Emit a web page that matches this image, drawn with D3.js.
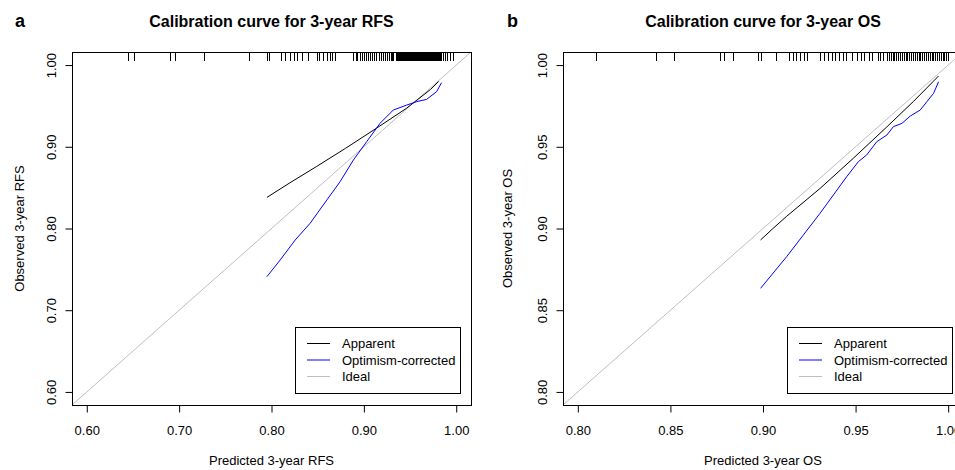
<!DOCTYPE html>
<html><head><meta charset="utf-8">
<script src="https://cdn.jsdelivr.net/npm/d3@7"></script>
<style>
body{margin:0;background:#fff;overflow:hidden}
svg{display:block;font-family:"Liberation Sans",Arial,Helvetica,sans-serif}
</style>
</head><body>
<svg id="chart" width="955" height="470"></svg>
<script>
// ---------- data ----------
const panelLetters = ["a", "b"];
const panelTitles = ["Calibration curve for 3-year RFS", "Calibration curve for 3-year OS"];
const xTitles = ["Predicted 3-year RFS", "Predicted 3-year OS"];
const yTitles = ["Observed 3-year RFS", "Observed 3-year OS"];

const rfsTicks = [0.60, 0.70, 0.80, 0.90, 1.00];
const rfsTickLabels = ["0.60", "0.70", "0.80", "0.90", "1.00"];
const osTicks = [0.80, 0.85, 0.90, 0.95, 1.00];
const osTickLabels = ["0.80", "0.85", "0.90", "0.95", "1.00"];

const rfsLimits = [0.60, 1.00];
const osLimits = [0.80, 1.00];

// Apparent (black) curves
const rfsApparentPred = [0.795, 0.820, 0.849, 0.880, 0.914, 0.946, 0.972, 0.981];
const rfsApparentObs  = [0.838, 0.856, 0.876, 0.898, 0.923, 0.947, 0.970, 0.980];
// Optimism-corrected (blue) curves
const rfsCorrectedPred = [0.795, 0.8095, 0.8257, 0.8419, 0.860, 0.8743, 0.8887, 0.9031, 0.9175, 0.9319, 0.9463, 0.9571, 0.9679, 0.9787, 0.9841];
const rfsCorrectedObs  = [0.741, 0.7616, 0.786, 0.8065, 0.835, 0.8574, 0.8839, 0.9063, 0.9287, 0.945, 0.951, 0.9552, 0.958, 0.9674, 0.9784];

const osApparentPred = [0.8987, 0.905, 0.9128, 0.9308, 0.9488, 0.9669, 0.9813, 0.9948];
const osApparentObs  = [0.893, 0.8996, 0.9075, 0.9245, 0.9430, 0.9622, 0.9778, 0.9933];
const osCorrectedPred = [0.8987, 0.9128, 0.9308, 0.9452, 0.9515, 0.9560, 0.9614, 0.9669, 0.9704, 0.9750, 0.9795, 0.9849, 0.9885, 0.9921, 0.9948];
const osCorrectedObs  = [0.8634, 0.8828, 0.9093, 0.9317, 0.9409, 0.9450, 0.9531, 0.9572, 0.9623, 0.9643, 0.9688, 0.9725, 0.9776, 0.9827, 0.9898];

// Rug of predicted values (top of plot)
const rfsRug = [0.645, 0.651, 0.690, 0.695, 0.727, 0.776, 0.795, 0.797, 0.810, 0.815, 0.820, 0.824, 0.828, 0.833, 0.840,
  0.849, 0.851, 0.856, 0.860, 0.863, 0.866, 0.869,
  0.888, 0.891, 0.893, 0.896, 0.898, 0.900, 0.902, 0.905, 0.907, 0.909, 0.911, 0.913, 0.916,
  0.919, 0.921, 0.923, 0.925, 0.927, 0.929, 0.930, 0.932,
  0.935, 0.936, 0.937, 0.938, 0.939, 0.940, 0.941, 0.942, 0.943, 0.944, 0.945, 0.946, 0.947, 0.948, 0.949, 0.950,
  0.951, 0.952, 0.953, 0.954, 0.955, 0.956, 0.957, 0.958, 0.959, 0.960, 0.961, 0.962, 0.963, 0.964, 0.965, 0.966,
  0.967, 0.968, 0.969, 0.970, 0.971, 0.972, 0.973, 0.974, 0.975, 0.976, 0.977, 0.978, 0.979, 0.980, 0.981, 0.982,
  0.984, 0.986, 0.988, 0.990, 0.993, 0.996];
const osRug = [0.810, 0.842, 0.852, 0.877, 0.879, 0.884, 0.8975, 0.899, 0.907, 0.914, 0.916, 0.918, 0.920, 0.922, 0.924,
  0.931, 0.933, 0.935, 0.937, 0.939, 0.941, 0.943, 0.945, 0.948,
  0.951, 0.953, 0.9545, 0.957, 0.959, 0.962, 0.963, 0.965,
  0.967, 0.968, 0.969, 0.970, 0.971, 0.972, 0.973, 0.974, 0.975, 0.976, 0.977, 0.978, 0.979, 0.980, 0.981, 0.982,
  0.983, 0.984, 0.985, 0.986, 0.987, 0.988, 0.989, 0.990, 0.991, 0.992, 0.993, 0.994, 0.995, 0.996, 0.997, 0.998,
  0.999, 1.000];

const legendLabels = ["Apparent", "Optimism-corrected", "Ideal"];
const legendColors = ["#000000", "#0000ff", "#bebebe"];

// ---------- drawing ----------
const svg = d3.select("#chart");

function zip(a, b) { return a.map((v, i) => [v, b[i]]); }

function drawPanel(p) {
  const ext = (p.limits[1] - p.limits[0]) * 0.04;
  const dom = [p.limits[0] - ext, p.limits[1] + ext];
  const x = d3.scaleLinear().domain(dom).range([p.left, p.right]);
  const y = d3.scaleLinear().domain(dom).range([p.bottom, p.top]);
  const g = svg.append("g");

  const clipId = "clip" + p.idx;
  svg.append("clipPath").attr("id", clipId).append("rect")
    .attr("x", p.left).attr("y", p.top).attr("width", p.right - p.left).attr("height", p.bottom - p.top);

  // ideal line
  g.append("line").attr("clip-path", `url(#${clipId})`)
    .attr("x1", x(dom[0])).attr("y1", y(dom[0])).attr("x2", x(dom[1])).attr("y2", y(dom[1]))
    .attr("stroke", legendColors[2]).attr("stroke-width", 1);

  const line = d3.line().x(d => x(d[0])).y(d => y(d[1]));
  g.append("path").datum(zip(p.appPred, p.appObs)).attr("d", line)
    .attr("fill", "none").attr("stroke", legendColors[0]).attr("stroke-width", 1);
  g.append("path").datum(zip(p.corPred, p.corObs)).attr("d", line)
    .attr("fill", "none").attr("stroke", legendColors[1]).attr("stroke-width", 1);

  // rug
  g.selectAll(".rug").data(p.rug).enter().append("line")
    .attr("x1", d => Math.round(x(d)) + 0.5).attr("x2", d => Math.round(x(d)) + 0.5)
    .attr("y1", p.top).attr("y2", p.top + 9)
    .attr("stroke", "#000").attr("stroke-width", 1);

  // box
  g.append("rect").attr("x", Math.round(p.left) + 0.5).attr("y", Math.round(p.top) + 0.5)
    .attr("width", Math.round(p.right - p.left)).attr("height", Math.round(p.bottom - p.top))
    .attr("fill", "none").attr("stroke", "#000").attr("stroke-width", 1);

  // x axis
  const xa = g.append("g").attr("transform", `translate(0,${Math.round(p.bottom) + 0.5})`)
    .call(d3.axisBottom(x).tickValues(p.ticks).tickFormat((d, i) => p.tickLabels[i]).tickSize(7).tickPadding(0));
  xa.select(".domain").attr("d", `M${x(p.ticks[0])},0H${x(p.ticks[p.ticks.length - 1])}`);
  xa.selectAll(".tick line").attr("stroke", "#000");
  xa.selectAll(".tick text").attr("y", 0).attr("dy", null).attr("transform", "translate(0,29.5)")
    .attr("font-size", 13).attr("font-family", null).attr("fill", "#000");

  // y axis
  const ya = g.append("g").attr("transform", `translate(${Math.round(p.left) + 0.5},0)`)
    .call(d3.axisLeft(y).tickValues(p.ticks).tickFormat((d, i) => p.tickLabels[i]).tickSize(7).tickPadding(0));
  ya.select(".domain").attr("d", `M0,${y(p.ticks[0])}V${y(p.ticks[p.ticks.length - 1])}`);
  ya.selectAll(".tick text").attr("x", null).attr("dy", null).attr("text-anchor", "middle")
    .attr("transform", "translate(-17,0) rotate(-90)")
    .attr("font-size", 13).attr("font-family", null).attr("fill", "#000");

  // titles
  const cx = (p.left + p.right) / 2;
  svg.append("text").attr("x", cx).attr("y", 27).attr("text-anchor", "middle")
    .attr("font-size", 16).attr("font-weight", "bold").text(p.title);
  svg.append("text").attr("x", p.letterX).attr("y", 27)
    .attr("font-size", 18).attr("font-weight", "bold").text(p.letter);
  svg.append("text").attr("x", cx).attr("y", 465).attr("text-anchor", "middle")
    .attr("font-size", 13).text(p.xTitle);
  const cy = (p.top + p.bottom) / 2;
  svg.append("text").attr("transform", `translate(${p.left - p.yTitleOff},${cy}) rotate(-90)`)
    .attr("text-anchor", "middle").attr("font-size", 13).text(p.yTitle);

  // legend
  const lx = Math.round(p.right) - 176, ly = Math.round(p.bottom) - 78;
  const lg = g.append("g");
  lg.append("rect").attr("x", lx + 0.5).attr("y", ly + 0.5).attr("width", 165).attr("height", 66)
    .attr("fill", "#fff").attr("stroke", "#000").attr("stroke-width", 1);
  legendLabels.forEach((lab, i) => {
    const ry = ly + 16.5 + i * 16.5;
    lg.append("line").attr("x1", lx + 12).attr("x2", lx + 35).attr("y1", ry).attr("y2", ry)
      .attr("stroke", legendColors[i]).attr("stroke-width", 1);
    lg.append("text").attr("x", lx + 47).attr("y", ry + 4.7).attr("font-size", 13).text(lab);
  });
}

drawPanel({idx: 0, left: 72, right: 471, top: 52, bottom: 405, limits: rfsLimits,
  ticks: rfsTicks, tickLabels: rfsTickLabels,
  appPred: rfsApparentPred, appObs: rfsApparentObs, corPred: rfsCorrectedPred, corObs: rfsCorrectedObs,
  rug: rfsRug, title: panelTitles[0], letter: panelLetters[0], letterX: 15,
  xTitle: xTitles[0], yTitle: yTitles[0], yTitleOff: 48});
drawPanel({idx: 1, left: 563, right: 963, top: 52, bottom: 405, limits: osLimits,
  ticks: osTicks, tickLabels: osTickLabels,
  appPred: osApparentPred, appObs: osApparentObs, corPred: osCorrectedPred, corObs: osCorrectedObs,
  rug: osRug, title: panelTitles[1], letter: panelLetters[1], letterX: 507,
  xTitle: xTitles[1], yTitle: yTitles[1], yTitleOff: 51});
</script>
</body></html>
